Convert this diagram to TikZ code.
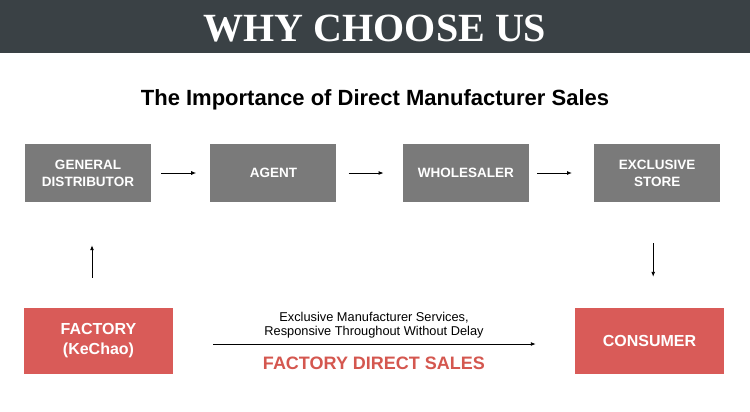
\documentclass[tikz,border=0pt]{standalone}
\usepackage{fontspec}
\setmainfont{Liberation Sans}
\newfontfamily\titlefont{Liberation Serif}
\usetikzlibrary{arrows.meta,positioning}
\definecolor{headbg}{HTML}{3A4145}
\definecolor{boxgray}{HTML}{7A7A7A}
\definecolor{boxred}{HTML}{D95B58}
\definecolor{textred}{HTML}{D4574F}

\begin{document}
\begin{tikzpicture}[
  x=1pt, y=-1pt,
  chainbox/.style={rectangle, fill=boxgray, text=white, inner sep=0pt,
                   minimum width=126pt, minimum height=58pt, align=center,
                   font=\fontsize{13.5}{17}\selectfont\bfseries},
  endbox/.style={chainbox, fill=boxred, minimum width=149pt,
                 minimum height=66pt, font=\fontsize{16}{20}\selectfont\bfseries},
  arr/.style={-{Latex[length=5pt,width=4pt]}, line width=0.9pt},
  lbl/.style={font=\fontsize{12.8}{14.5}\selectfont, align=center, midway}
]
\useasboundingbox (0,0) rectangle (750,412);
\fill[headbg] (0,0) rectangle (750,53);
\node[text=white, font=\titlefont\bfseries\fontsize{40}{40}\selectfont] (title) at (375,28.5) {WHY CHOOSE US};
\node[font=\bfseries\fontsize{22}{24}\selectfont] (sub) at (375,100) {The Importance of Direct Manufacturer Sales};

\node[chainbox]                    (gd)    at (88,173) {GENERAL\\DISTRIBUTOR};
\node[chainbox, right=59pt of gd]  (agent) {AGENT};
\node[chainbox, right=66pt of agent](whole) {WHOLESALER};
\node[chainbox, right=65pt of whole](store) {EXCLUSIVE\\STORE};
\node[endbox]                      (fac)   at (98.5,341) {FACTORY\\(KeChao)};
\node[endbox]                      (cons)  at (649.5,341) {CONSUMER};

\draw[arr, shorten <=10pt, shorten >=14pt] (gd) -- (agent);
\draw[arr, shorten <=12pt, shorten >=19pt] (agent) -- (whole);
\draw[arr, shorten <=8pt, shorten >=22pt] (whole) -- (store);
\draw[arr, shorten <=30pt, shorten >=43pt] ([xshift=4pt]gd.south |- fac.north) -- ([xshift=4pt]gd.south);
\draw[arr, shorten <=41pt, shorten >=31pt] ([xshift=-4pt]store.south) -- ([xshift=-4pt]store.south |- cons.north);
\draw[arr, shorten <=40pt, shorten >=39pt] ([yshift=-3pt]fac.east) --
  node[lbl, above=2pt]{Exclusive Manufacturer Services,\\Responsive Throughout Without Delay}
  node[lbl, below=9pt, text=textred, font=\fontsize{18}{20}\selectfont\bfseries]{FACTORY DIRECT SALES}
  ([yshift=-3pt]cons.west);
\end{tikzpicture}
\end{document}
